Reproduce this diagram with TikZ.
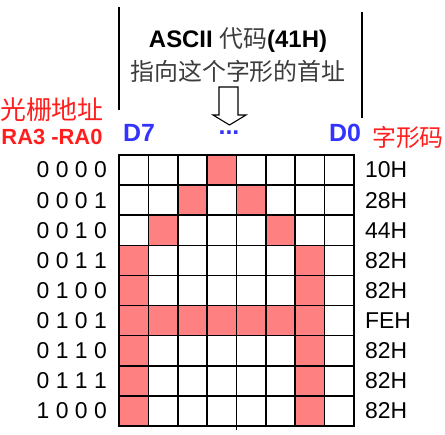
\documentclass[tikz,border=0pt]{standalone}
\usepackage{fontspec}
\setmainfont{Liberation Sans}
\newfontfamily\cjk{Noto Sans CJK SC}
\definecolor{cellred}{RGB}{255,128,128}
\definecolor{lblblue}{RGB}{51,51,255}
\definecolor{lblred}{RGB}{255,30,30}
\definecolor{cjkgray}{RGB}{60,60,60}
\begin{document}
\begin{tikzpicture}[x=1bp,y=-1bp,
  cell/.style={draw=black, line width=1.6bp, minimum width=29.375bp, minimum height=30.11bp, inner sep=0pt, outer sep=0pt},
  b0/.style={fill=white}, b1/.style={fill=cellred},
  txt/.style={font=\fontsize{23}{26}\selectfont, inner sep=0pt},
  cjktxt/.style={font=\fontsize{24}{28}\selectfont\cjk, inner sep=0pt},
  bluelbl/.style={txt, font=\fontsize{25}{28}\selectfont\bfseries, text=lblblue},
  bar/.style={line width=1.6bp}]
\useasboundingbox (0,0) rectangle (445,435);
% grid cells
\foreach \r/\bits/\addr/\code in {
  0/{0,0,0,1,0,0,0,0}/0 0 0 0/10H,
  1/{0,0,1,0,1,0,0,0}/0 0 0 1/28H,
  2/{0,1,0,0,0,1,0,0}/0 0 1 0/44H,
  3/{1,0,0,0,0,0,1,0}/0 0 1 1/82H,
  4/{1,0,0,0,0,0,1,0}/0 1 0 0/82H,
  5/{1,1,1,1,1,1,1,0}/0 1 0 1/FEH,
  6/{1,0,0,0,0,0,1,0}/0 1 1 0/82H,
  7/{1,0,0,0,0,0,1,0}/0 1 1 1/82H,
  8/{1,0,0,0,0,0,1,0}/1 0 0 0/82H}{
  \pgfmathsetmacro{\yc}{155+30.11*(\r+0.5)}
  \foreach \b [count=\c from 0] in \bits {
    \pgfmathsetmacro{\xc}{119+29.375*(\c+0.5)}
    \node[cell, b\b] (c-\r-\c) at (\xc,\yc) {};
  }
  \node[txt, anchor=east] (addr-\r) at (107,\yc) {\addr};
  \node[txt, anchor=west] (code-\r) at (365,\yc) {\code};
}
\draw[line width=2bp] (c-0-0.north west) rectangle (c-8-7.south east);
\coordinate (tick) at ([yshift=-4bp]c-8-3.south east);
\draw[line width=1.6bp] (c-8-3.south east) -- (tick);
% bracket bars
\coordinate (l1) at (119,7); \coordinate (l2) at (119,110);
\coordinate (r1) at (362,12); \coordinate (r2) at (362,118);
\draw[bar] (l1) -- (l2);
\draw[bar] (r1) -- (r2);
% title texts
\node[inner sep=0pt] (title) at (238,40) {\fontsize{24}{28}\selectfont\textbf{ASCII} {\cjk\color{cjkgray}代码}\textbf{(41H)}};
\node[cjktxt, text=cjkgray] (sub) at (238,71) {指向这个字形的首址};
% hollow arrow
\draw[line width=1.1bp, fill=white, line join=miter] (219,87) -- (238,87) -- (238,115) -- (246,115) -- (229.5,125) -- (213,115) -- (219,115) -- cycle;
% column labels
\node[bluelbl] (d7) at (139,133) {D7};
\node[bluelbl] (dots) at (229,133) {...};
\node[bluelbl] (d0) at (345,133) {D0};
\node[cjktxt, text=lblred] (zxm) at (408,137) {字形码};
\node[cjktxt, font=\fontsize{26}{30}\selectfont\cjk, text=lblred, anchor=east] (gszz) at (104,110) {光栅地址};
\node[txt, font=\fontsize{22}{25}\selectfont\bfseries, text=lblred] (ra) at (52,137) {RA3 -RA0};
\end{tikzpicture}
\end{document}
